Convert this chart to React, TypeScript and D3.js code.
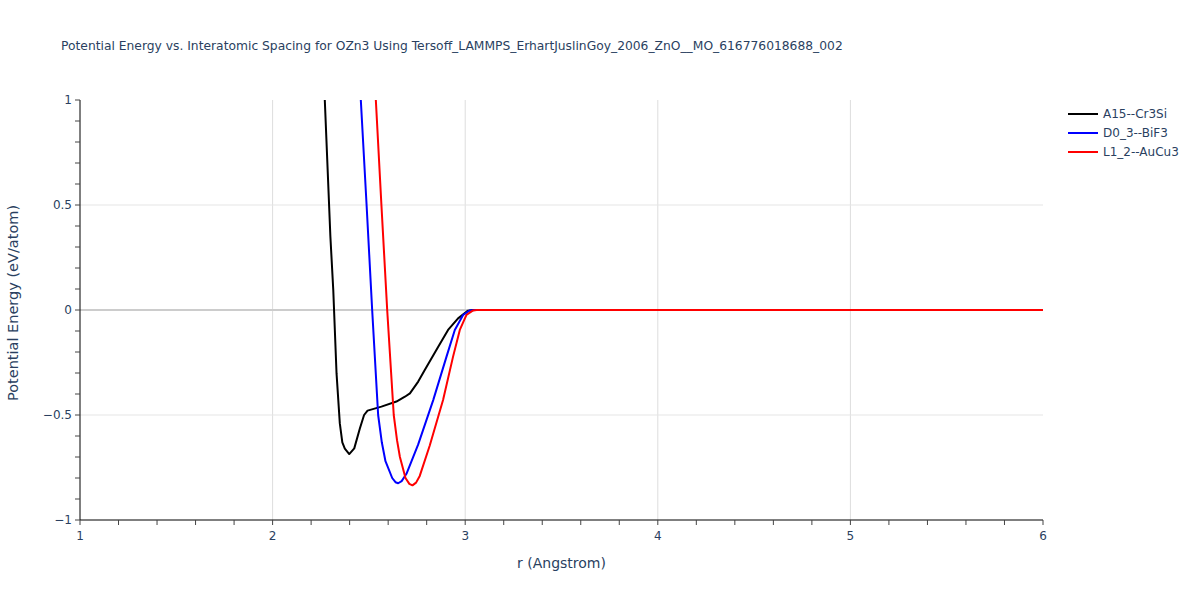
import React from "react";
import * as d3 from "d3";

const titleText =
  "Potential Energy vs. Interatomic Spacing for OZn3 Using Tersoff_LAMMPS_ErhartJuslinGoy_2006_ZnO__MO_616776018688_002";

const seriesNames = ["A15--Cr3Si", "D0_3--BiF3", "L1_2--AuCu3"];
const seriesColors = ["#000000", "#0000ff", "#ff0000"];

const a15R = [2.25, 2.271, 2.3, 2.315, 2.332, 2.349, 2.362, 2.375, 2.398, 2.424, 2.453, 2.475, 2.493, 2.565, 2.643, 2.687, 2.713, 2.756, 2.79, 2.86, 2.911, 2.963, 3.015, 3.04, 6.0];
const a15E = [1.45, 1.0, 0.35, 0.095, -0.302, -0.54, -0.63, -0.66, -0.686, -0.659, -0.564, -0.5, -0.479, -0.46, -0.436, -0.413, -0.397, -0.341, -0.286, -0.175, -0.095, -0.04, -0.003, 0, 0];

const d03R = [2.43, 2.458, 2.488, 2.517, 2.548, 2.567, 2.586, 2.621, 2.638, 2.652, 2.67, 2.695, 2.756, 2.834, 2.903, 2.946, 2.989, 3.024, 3.05, 6.0];
const d03E = [1.5, 1.0, 0.5, 0, -0.5, -0.63, -0.72, -0.8, -0.82, -0.825, -0.815, -0.78, -0.64, -0.429, -0.222, -0.095, -0.024, -0.002, 0, 0];

const l12R = [2.51, 2.536, 2.565, 2.595, 2.629, 2.646, 2.661, 2.69, 2.71, 2.726, 2.745, 2.764, 2.816, 2.885, 2.937, 2.972, 3.006, 3.041, 3.06, 6.0];
const l12E = [1.45, 1.0, 0.5, 0, -0.5, -0.62, -0.7, -0.8, -0.828, -0.835, -0.822, -0.79, -0.645, -0.429, -0.222, -0.095, -0.024, -0.002, 0, 0];

const xTicks = [1, 2, 3, 4, 5, 6];
const yTicks = [-1, -0.5, 0, 0.5, 1];

export default function App() {
  const W = 1200, H = 600;
  const L = 80, R = 1043, T = 100, B = 520;
  const x = d3.scaleLinear().domain([1, 6]).range([L, R]);
  const y = d3.scaleLinear().domain([-1, 1]).range([B, T]);
  const font = '"DejaVu Sans", Verdana, sans-serif';
  const txt = "#2a3f5f";

  const series = [
    { r: a15R, e: a15E },
    { r: d03R, e: d03E },
    { r: l12R, e: l12E },
  ];
  const line = d3
    .line<[number, number]>()
    .x((d) => x(d[0]))
    .y((d) => y(d[1]));

  const xMinor = d3.range(1, 6.001, 0.2).map((v) => +v.toFixed(2));
  const yMinor = d3.range(-1, 1.001, 0.1).map((v) => +v.toFixed(2));
  const fmt = (v: number) => (v < 0 ? "\u2212" + Math.abs(v) : String(v));

  return (
    <svg width={W} height={H} style={{ display: "block", position: "absolute", left: 0, top: 0 }} fontFamily={font}>
      <rect x={0} y={0} width={W} height={H} fill="#fff" />
      <defs>
        <clipPath id="plotclip">
          <rect x={L} y={T} width={R - L} height={B - T} />
        </clipPath>
      </defs>
      {xTicks.filter((v) => v > 1 && v < 6).map((v) => (
        <line key={"gx" + v} x1={x(v)} x2={x(v)} y1={T} y2={B} stroke="#dddddd" strokeWidth={1} />
      ))}
      {yTicks.filter((v) => v !== -1 && v !== 1).map((v) => (
        <line key={"gy" + v} x1={L} x2={R} y1={y(v)} y2={y(v)} stroke={v === 0 ? "#cccccc" : "#e5e5e5"} strokeWidth={v === 0 ? 2 : 1} />
      ))}
      <g clipPath="url(#plotclip)">
        {series.map((s, i) => (
          <path
            key={i}
            d={line(s.r.map((r, j) => [r, s.e[j]] as [number, number])) || ""}
            fill="none"
            stroke={seriesColors[i]}
            strokeWidth={2}
            strokeLinejoin="round"
          />
        ))}
      </g>
      <line x1={L} x2={R} y1={B} y2={B} stroke="#000" strokeWidth={1} />
      <line x1={L} x2={L} y1={T} y2={B} stroke="#000" strokeWidth={1} />
      {xMinor.map((v) => (
        <line key={"tx" + v} x1={x(v)} x2={x(v)} y1={B} y2={B + 5} stroke="#444" strokeWidth={1} />
      ))}
      {yMinor.map((v) => (
        <line key={"ty" + v} x1={L - 5} x2={L} y1={y(v)} y2={y(v)} stroke="#444" strokeWidth={1} />
      ))}
      {xTicks.map((v) => (
        <text key={"lx" + v} x={x(v)} y={B + 20} textAnchor="middle" fontSize={12} fill={txt}>
          {v}
        </text>
      ))}
      {yTicks.map((v) => (
        <text key={"ly" + v} x={L - 8} y={y(v)} dy="0.35em" textAnchor="end" fontSize={12} fill={txt}>
          {fmt(v)}
        </text>
      ))}
      <text x={61} y={50} fontSize={12.3} fill={txt}>
        {titleText}
      </text>
      <text x={(L + R) / 2} y={568} textAnchor="middle" fontSize={14} fill={txt}>
        r (Angstrom)
      </text>
      <text transform={`translate(18, 303) rotate(-90)`} textAnchor="middle" fontSize={14.5} fill={txt}>
        Potential Energy (eV/atom)
      </text>
      {seriesNames.map((n, i) => (
        <g key={n} transform={`translate(1068, ${114 + i * 19})`}>
          <line x1={0} x2={30} y1={0} y2={0} stroke={seriesColors[i]} strokeWidth={2} />
          <text x={35} y={0} dy="0.35em" fontSize={12} fill={txt}>
            {n}
          </text>
        </g>
      ))}
    </svg>
  );
}
